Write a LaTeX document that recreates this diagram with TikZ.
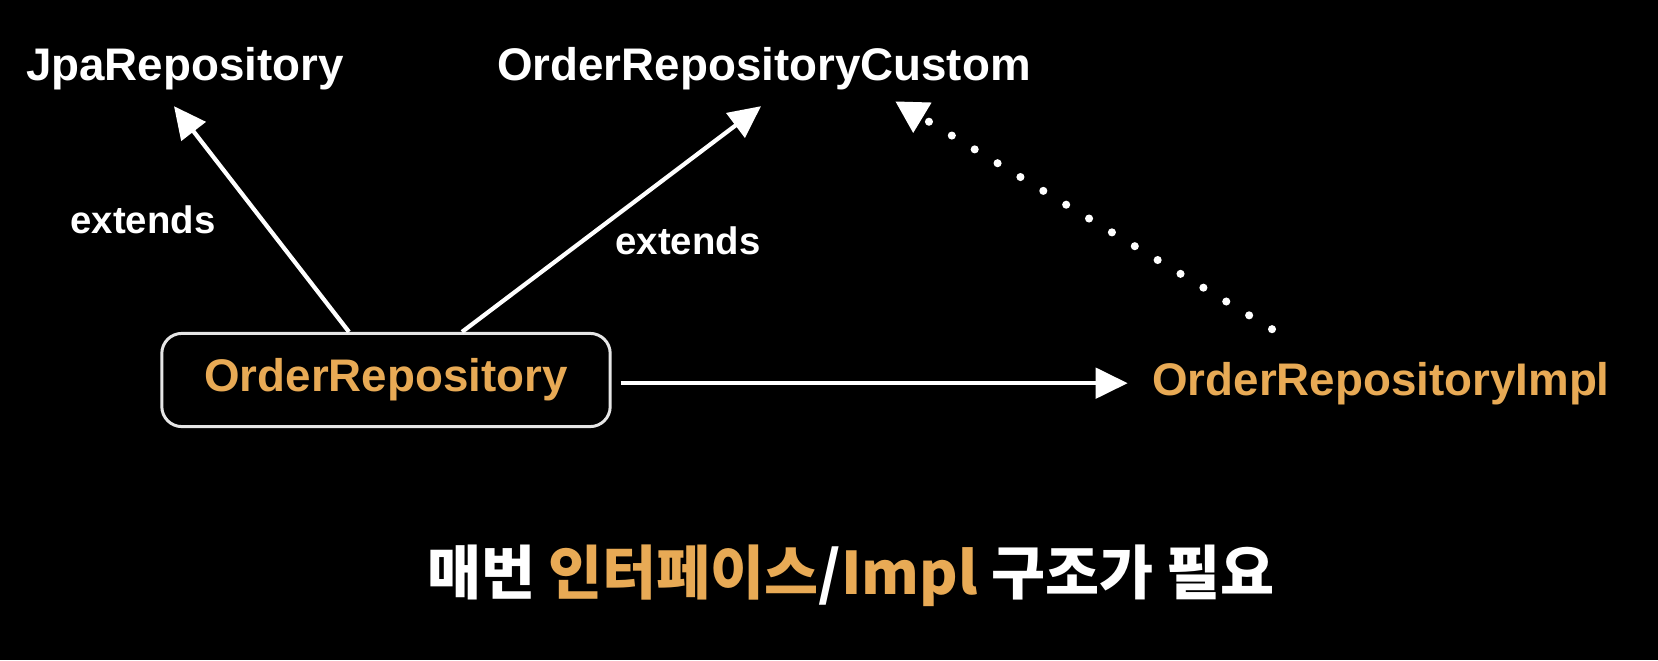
\documentclass[tikz,border=0pt]{standalone}
\usepackage{fontspec}
\setmainfont{Liberation Sans}
\newfontfamily\kofont{Noto Sans CJK KR}
\usetikzlibrary{positioning, calc, arrows.meta}
\definecolor{myorange}{RGB}{232, 170, 85}
\definecolor{edgegray}{RGB}{230, 230, 230}
\newcommand\wo{127.5pt}
\newcommand\ho{26.5pt}
\newcommand\rc{5.7pt}
\tikzset{
  iface/.style={text=white, inner sep=0pt, anchor=base, font=\bfseries\fontsize{13}{15}\selectfont},
  implname/.style={iface, text=myorange},
  extlbl/.style={text=white, inner sep=0pt, anchor=base, font=\bfseries\fontsize{10.9}{13}\selectfont},
  repobox/.style={draw=edgegray, line width=0.85pt, rounded corners=\rc, minimum width=\wo, minimum height=\ho,
    text=myorange, font=\bfseries\fontsize{13}{15}\selectfont},
  flow/.style={draw=white, line width=1.2pt, -{Triangle[length=9.1pt, width=8.6pt]}},
  dots/.style={draw=white, line width=2.3pt, line cap=round, dash pattern=on 0pt off 7.6pt,
    -{Triangle[length=9.1pt, width=9.4pt]}}
}

\begin{document}
\begin{tikzpicture}[x=0.01cm, y=0.01cm]
    \fill[black] (0,0) rectangle (1658,660);
    \useasboundingbox (0,0) rectangle (1658,660);

    \node (jpa) [iface] at (185,580) {JpaRepository};
    \node (custom) [iface] at (764,580) {OrderRepositoryCustom};
    \node (repo) [repobox] at (386,280) {OrderRepository};
    \node (impl) [implname] at (1381,265) {OrderRepositoryImpl};

    \node (e1) [extlbl] at (143,427) {extends};
    \node (e2) [extlbl] at (688,406) {extends};

    \draw[flow] ($(repo.north)+(-37,0)$) -- ($(jpa.south)+(-11,-16)$);
    \draw[flow] ($(repo.north)+(76,0)$) -- ($(custom.south)+(-3,-16)$);
    \draw[flow] ($(repo.east |- impl.west)+(9,0)$) -- ($(impl.west)+(-24,0)$);
    \draw[dots] ($(impl.north)+(-109,32)$) -- ($(custom.south)+(131,-11)$);

    \node (note) [anchor=base, text=white, inner sep=0pt, font=\kofont\bfseries\fontsize{16.7}{19}\selectfont]
      at (851,66) {매번 \textcolor{myorange}{인터페이스}/\textcolor{myorange}{Impl} 구조가 필요};

\end{tikzpicture}
\end{document}
